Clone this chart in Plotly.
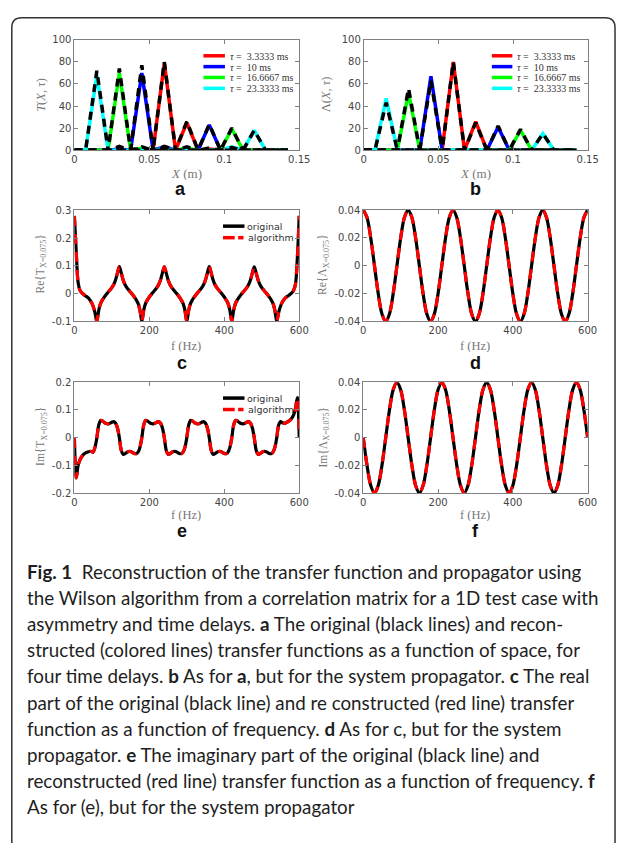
import plotly.graph_objects as go

W, H = 627, 849

# ---------------- data ----------------
X_pos = [0, 0.0075, 0.015, 0.0225, 0.03, 0.0375, 0.045, 0.0525, 0.06, 0.0675,
         0.075, 0.0825, 0.09, 0.0975, 0.105, 0.1125, 0.12, 0.1275, 0.135, 0.1425]
tau_names = ["3.3333", "10", "16.6667", "23.3333"]
tau_colors = ["#ff0000", "#0000ff", "#00ff00", "#00ffff"]

# panel a: transfer function T(X, tau)
T_orig_red   = [0, 0, 0, 0, 0, 0, 1.5, 0, 80, 0, 26, 0, 2, 0, 0, 0, 0, 0, 0, 0]
T_rec_red    = [0, 0, 0, 0, 0, 0, 1, 0, 79, 0, 25, 0, 1, 0, 0, 0, 0, 0, 0, 0]
T_orig_blue  = [0, 0, 0, 0, 3.5, 0, 77, 0, 3.5, 0, 0, 0, 23.5, 0, 0, 0, 0, 0, 0, 0]
T_rec_blue   = [0, 0, 0, 0, 1, 0, 70, 0, 3, 0, 0, 0, 23, 0, 0, 0, 0, 0, 0, 0]
T_orig_green = [0, 0, 0, 0, 74, 0, 3, 0, 0, 0, 3, 0, 0, 0, 20, 0, 0, 0, 0, 0]
T_rec_green  = [0, 0, 0, 0, 70, 0, 2, 0, 0, 0, 2, 0, 0, 0, 19.5, 0, 0, 0, 0, 0]
T_orig_cyan  = [0, 0, 72, 0, 0, 0, 0, 0, 2, 0, 0, 0, 0, 0, 2.5, 0, 18, 0, 0, 0]
T_rec_cyan   = [0, 0, 68, 0, 0, 0, 0, 0, 1.5, 0, 0, 0, 0, 0, 3, 0, 18, 0, 0, 0]

# panel b: propagator Lambda(X, tau)
L_orig_red   = [0, 0, 0, 0, 0, 0, 0, 0, 80, 0, 25, 0, 0, 0, 0, 0, 0, 0, 0, 0]
L_rec_red    = [0, 0, 0, 0, 0, 0, 0, 0, 80, 0, 26, 0, 0, 0, 0, 0, 0, 0, 0, 0]
L_orig_blue  = [0, 0, 0, 0, 0, 0, 63, 0, 0, 0, 0, 0, 22, 0, 0, 0, 0, 0, 0, 0]
L_rec_blue   = [0, 0, 0, 0, 0, 0, 67, 0, 0, 0, 0, 0, 21, 0, 0, 0, 0, 0, 0, 0]
L_orig_green = [0, 0, 0, 0, 56, 0, 0, 0, 0, 0, 0, 0, 0, 0, 19, 0, 0, 0, 0, 0]
L_rec_green  = [0, 0, 0, 0, 52, 0, 0, 0, 0, 0, 0, 0, 0, 0, 18, 0, 0, 0, 0, 0]
L_orig_cyan  = [0, 0, 43, 0, 0, 0, 0, 0, 0, 0, 0, 0, 0, 0, 0, 0, 15, 0, 0, 0]
L_rec_cyan   = [0, 0, 47, 0, 0, 0, 0, 0, 0, 0, 0, 0, 0, 0, 0, 0, 15, 0, 0, 0]

# frequency grids (Hz)
f5 = list(range(0, 601, 5))
f10 = list(range(0, 601, 10))

# panel c: Re{T_X=0.075}
ReT = [0.280, 0.150, 0.040, 0.012, 0.003, -0.003, -0.008, -0.013, -0.020, -0.030, -0.045, -0.068, -0.100,
       -0.060, -0.035, -0.022, -0.012, -0.003, 0.005, 0.013, 0.022, 0.033, 0.050, 0.075, 0.098,
       0.075, 0.050, 0.033, 0.022, 0.013, 0.005, -0.003, -0.012, -0.022, -0.035, -0.060, -0.100,
       -0.060, -0.035, -0.022, -0.012, -0.003, 0.005, 0.013, 0.022, 0.033, 0.050, 0.075, 0.097,
       0.075, 0.050, 0.033, 0.022, 0.013, 0.005, -0.003, -0.012, -0.022, -0.035, -0.060, -0.100,
       -0.060, -0.035, -0.022, -0.012, -0.003, 0.005, 0.013, 0.022, 0.033, 0.050, 0.075, 0.098,
       0.075, 0.050, 0.033, 0.022, 0.013, 0.005, -0.003, -0.012, -0.022, -0.035, -0.060, -0.100,
       -0.060, -0.035, -0.022, -0.012, -0.003, 0.005, 0.013, 0.022, 0.033, 0.050, 0.075, 0.097,
       0.075, 0.050, 0.033, 0.022, 0.013, 0.005, -0.003, -0.012, -0.022, -0.035, -0.060, -0.100,
       -0.068, -0.045, -0.030, -0.020, -0.013, -0.008, -0.003, 0.003, 0.012, 0.035, 0.130, 0.280]

# panel e: Im{T_X=0.075}
ImT = [0.000, -0.145, -0.100, -0.080, -0.068, -0.060, -0.055, -0.052, -0.050, -0.050, -0.052, -0.035, 0.000,
       0.045, 0.062, 0.060, 0.055, 0.051, 0.050, 0.052, 0.056, 0.058, 0.052, 0.035, 0.000,
       -0.045, -0.060, -0.058, -0.053, -0.050, -0.050, -0.053, -0.057, -0.058, -0.052, -0.035, 0.000,
       0.045, 0.062, 0.060, 0.055, 0.051, 0.050, 0.052, 0.056, 0.058, 0.052, 0.035, 0.000,
       -0.045, -0.060, -0.058, -0.053, -0.050, -0.050, -0.053, -0.057, -0.058, -0.052, -0.035, 0.000,
       0.045, 0.062, 0.060, 0.055, 0.051, 0.050, 0.052, 0.056, 0.058, 0.052, 0.035, 0.000,
       -0.045, -0.060, -0.058, -0.053, -0.050, -0.050, -0.053, -0.057, -0.058, -0.052, -0.035, 0.000,
       0.045, 0.062, 0.060, 0.055, 0.051, 0.050, 0.052, 0.056, 0.058, 0.052, 0.035, 0.000,
       -0.045, -0.060, -0.058, -0.053, -0.050, -0.050, -0.053, -0.057, -0.058, -0.052, -0.035, 0.000,
       0.045, 0.058, 0.054, 0.052, 0.054, 0.058, 0.063, 0.070, 0.082, 0.105, 0.145, 0.000]

# panel d: Re{Lambda_X=0.075}
ReL = [0.040, 0.0346, 0.020, 0.000, -0.020, -0.0346, -0.040, -0.0346, -0.020, 0.000, 0.020, 0.0346,
       0.040, 0.0346, 0.020, 0.000, -0.020, -0.0346, -0.040, -0.0346, -0.020, 0.000, 0.020, 0.0346,
       0.040, 0.0346, 0.020, 0.000, -0.020, -0.0346, -0.040, -0.0346, -0.020, 0.000, 0.020, 0.0346,
       0.040, 0.0346, 0.020, 0.000, -0.020, -0.0346, -0.040, -0.0346, -0.020, 0.000, 0.020, 0.0346,
       0.040, 0.0346, 0.020, 0.000, -0.020, -0.0346, -0.040, -0.0346, -0.020, 0.000, 0.020, 0.0346,
       0.040]

# panel f: Im{Lambda_X=0.075}
ImL = [0.000, -0.020, -0.0346, -0.040, -0.0346, -0.020, 0.000, 0.020, 0.0346, 0.040, 0.0346, 0.020,
       0.000, -0.020, -0.0346, -0.040, -0.0346, -0.020, 0.000, 0.020, 0.0346, 0.040, 0.0346, 0.020,
       0.000, -0.020, -0.0346, -0.040, -0.0346, -0.020, 0.000, 0.020, 0.0346, 0.040, 0.0346, 0.020,
       0.000, -0.020, -0.0346, -0.040, -0.0346, -0.020, 0.000, 0.020, 0.0346, 0.040, 0.0346, 0.020,
       0.000, -0.020, -0.0346, -0.040, -0.0346, -0.020, 0.000, 0.020, 0.0346, 0.040, 0.0346, 0.020,
       0.000]

caption_lines = [
    "<b>Fig. 1</b>  Reconstruction of the transfer function and propagator using",
    "the Wilson algorithm from a correlation matrix for a 1D test case with",
    "asymmetry and time delays. <b>a</b> The original (black lines) and recon-",
    "structed (colored lines) transfer functions as a function of space, for",
    "four time delays. <b>b</b> As for <b>a</b>, but for the system propagator. <b>c</b> The real",
    "part of the original (black line) and re constructed (red line) transfer",
    "function as a function of frequency. <b>d</b> As for c, but for the system",
    "propagator. <b>e</b> The imaginary part of the original (black line) and",
    "reconstructed (red line) transfer function as a function of frequency. <b>f</b>",
    "As for (e), but for the system propagator",
]

# ---------------- helpers ----------------
def px(x):
    return x / W

def py(y):
    return 1 - y / H

fig = go.Figure()

# panel boxes in pixels: (x0, x1, ytop, ybottom)
boxes = {
    "a": (73, 303, 34.3, 146.3),
    "b": (369, 598, 34.3, 146.3),
    "c": (73, 303, 207.3, 320),
    "d": (368.5, 598, 207, 320),
    "e": (73, 303, 381.7, 494),
    "f": (368.5, 598, 381.7, 494),
}
axis_ids = {"a": "", "b": "2", "c": "3", "d": "4", "e": "5", "f": "6"}

tick_font = dict(family="DejaVu Sans", size=10, color="#444444")
frame = dict(showline=True, linecolor="#808080", linewidth=1, mirror="ticks",
             ticks="inside", ticklen=4, tickcolor="#808080", tickwidth=1,
             showgrid=False, zeroline=False, tickfont=tick_font, fixedrange=True)

ranges = {
    "a": ([0, 0.15], [0, 100]),
    "b": ([0, 0.15], [0, 100]),
    "c": ([0, 600], [-0.1, 0.3]),
    "d": ([0, 600], [-0.04, 0.04]),
    "e": ([0, 600], [-0.2, 0.2]),
    "f": ([0, 600], [-0.04, 0.04]),
}
xticks_pos = dict(tickvals=[0, 0.05, 0.1, 0.15], ticktext=["0", "0.05", "0.1", "0.15"])
xticks_f = dict(tickvals=[0, 200, 400, 600], ticktext=["0", "200", "400", "600"])
yticks = {
    "a": dict(tickvals=[0, 20, 40, 60, 80, 100], ticktext=["0", "20", "40", "60", "80", "100"]),
    "c": dict(tickvals=[-0.1, 0, 0.1, 0.2, 0.3], ticktext=["-0.1", "0", "0.1", "0.2", "0.3"]),
    "d": dict(tickvals=[-0.04, -0.02, 0, 0.02, 0.04], ticktext=["-0.04", "-0.02", "0", "0.02", "0.04"]),
    "e": dict(tickvals=[-0.2, -0.1, 0, 0.1, 0.2], ticktext=["-0.2", "-0.1", "0", "0.1", "0.2"]),
}
yticks["b"] = yticks["a"]
yticks["f"] = yticks["d"]

layout_axes = {}
for k, (x0, x1, yt, yb) in boxes.items():
    i = axis_ids[k]
    xr, yr = ranges[k]
    xt = xticks_pos if k in ("a", "b") else xticks_f
    layout_axes["xaxis" + i] = dict(frame, domain=[px(x0), px(x1)], range=xr,
                                    anchor="y" + i, **xt)
    layout_axes["yaxis" + i] = dict(frame, domain=[py(yb), py(yt)], range=yr,
                                    anchor="x" + i, **yticks[k])

# ---------------- traces ----------------
def add(x, y, ax, color, width, dash="solid", shape="linear"):
    i = axis_ids[ax]
    fig.add_trace(go.Scatter(x=x, y=y, mode="lines", xaxis="x" + i, yaxis="y" + i,
                             line=dict(color=color, width=width, dash=dash, shape=shape,
                                       smoothing=0.9 if shape == "spline" else None),
                             showlegend=False, hoverinfo="skip"))

T_rec = [T_rec_red, T_rec_blue, T_rec_green, T_rec_cyan]
T_orig = [T_orig_red, T_orig_blue, T_orig_green, T_orig_cyan]
L_rec = [L_rec_red, L_rec_blue, L_rec_green, L_rec_cyan]
L_orig = [L_orig_red, L_orig_blue, L_orig_green, L_orig_cyan]

for ax, rec, orig in (("a", T_rec, T_orig), ("b", L_rec, L_orig)):
    for vals, col in zip(rec, tau_colors):
        add(X_pos, vals, ax, col, 3.5)
    for vals in orig:
        add(X_pos, vals, ax, "#000000", 3.5, dash="8px,6px")

for ax, xs, ys in (("c", f5, ReT), ("d", f10, ReL), ("e", f5, ImT), ("f", f10, ImL)):
    add(xs, ys, ax, "#000000", 3.2, shape="spline")
    add(xs, ys, ax, "#ff0000", 3.2, dash="10px,8px", shape="spline")

# ---------------- annotations ----------------
ann = []
shapes = []

def text(x, y, s, size, family, color="#000", xanchor="center", yanchor="middle", angle=0, height=None):
    a = dict(x=px(x), y=py(y), xref="paper", yref="paper", text=s, showarrow=False,
             xanchor=xanchor, yanchor=yanchor, textangle=angle,
             font=dict(size=size, family=family, color=color))
    if height is not None:
        a["height"] = height
    ann.append(a)

serif = "Liberation Serif"
title_col = "#777777"
# axis titles
text(39, 90, "<i>T</i>(<i>X</i>, <i>τ</i>)", 12.5, serif, title_col, angle=-90)
text(330, 90, "Λ(<i>X</i>, <i>τ</i>)", 12.5, serif, title_col, angle=-90)
text(188, 170, "<i>X</i> (m)", 13, serif, title_col, height=13)
text(483, 170, "<i>X</i> (m)", 13, serif, title_col, height=13)
text(39, 262, "Re{T<sub>X=0.075</sub>}", 11.5, serif, title_col, angle=-90)
text(328, 262, "Re{Λ<sub>X=0.075</sub>}", 11.5, serif, title_col, angle=-90)
text(39, 437, "Im{T<sub>X=0.075</sub>}", 11.5, serif, title_col, angle=-90)
text(328, 437, "Im{Λ<sub>X=0.075</sub>}", 11.5, serif, title_col, angle=-90)
for xx, yy in ((187, 344), (483, 344), (187, 516), (483, 516)):
    text(xx, yy, "f (Hz)", 12.5, serif, title_col, height=13)

# panel letters
for lab, (xx, yy) in zip("abcdef", [(182, 186), (483, 186), (183, 362), (483, 362), (183, 533), (483, 533)]):
    text(xx, yy, "<b>%s</b>" % lab, 18, "Liberation Sans", "#111111", height=16)

# legends for a and b
leg_rows = [50.5, 61.5, 72.5, 83.5]
for (lx0, lx1, tx) in ((205, 227, 230), (500, 521, 524)):
    for yy, name, col in zip(leg_rows, tau_names, tau_colors):
        shapes.append(dict(type="line", xref="paper", yref="paper", x0=px(lx0), x1=px(lx1),
                           y0=py(yy), y1=py(yy), line=dict(color=col, width=3.5)))
        text(tx, yy, "<i>τ</i> =&nbsp;&nbsp;%s ms" % name, 10, serif, "#333333",
             xanchor="left", height=10)

# legends for c and e
for y1, y2 in ((223.3, 235), (397.7, 409.3)):
    shapes.append(dict(type="line", xref="paper", yref="paper", x0=px(225), x1=px(247),
                       y0=py(y1), y1=py(y1), line=dict(color="#000000", width=3.5)))
    shapes.append(dict(type="line", xref="paper", yref="paper", x0=px(225), x1=px(237),
                       y0=py(y2), y1=py(y2), line=dict(color="#ff0000", width=3.5)))
    shapes.append(dict(type="line", xref="paper", yref="paper", x0=px(240.5), x1=px(246),
                       y0=py(y2), y1=py(y2), line=dict(color="#ff0000", width=3.5)))
    text(248, y1, "original", 9.5, "DejaVu Sans", "#333333", xanchor="left", height=11)
    text(249, y2, "algorithm", 9.5, "DejaVu Sans", "#333333", xanchor="left", height=11)

# caption
cap_y0, cap_dy = 573, 26.5
for n, line in enumerate(caption_lines):
    text(22, cap_y0 + n * cap_dy, line, 18.8, "Lato", "#1e1e1e", xanchor="left", height=24)

# outer rounded box
r = 10
path = ("M {x0},{yb} L {x0},{y1} Q {x0},{yt} {x2},{yt} L {x3},{yt} Q {x4},{yt} {x4},{y1} L {x4},{yb}"
        .format(x0=px(9), yb=py(849), y1=py(12 + r), yt=py(12), x2=px(9 + r),
                x3=px(626 - r), x4=px(626)))
shapes.append(dict(type="path", xref="paper", yref="paper", path=path,
                   line=dict(color="#333333", width=1.5)))

fig.update_layout(width=W, height=H, margin=dict(l=0, r=0, t=0, b=0),
                  paper_bgcolor="white", plot_bgcolor="white", showlegend=False,
                  annotations=ann, shapes=shapes, **layout_axes)

fig.write_html(
    "out.html",
    config={"displayModeBar": False},
    post_script=("document.documentElement.style.margin='0px';"
                 "document.body.style.margin='0px';"),
)
